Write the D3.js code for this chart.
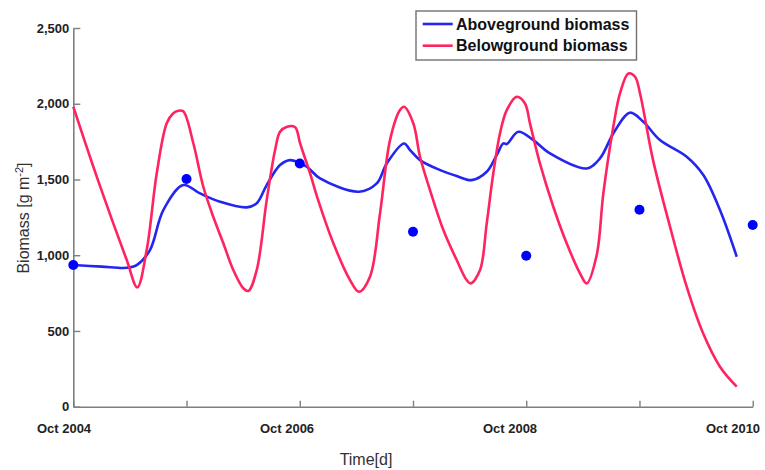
<!DOCTYPE html>
<html>
<head>
<meta charset="utf-8">
<script src="https://cdn.jsdelivr.net/npm/d3@7"></script>
<style>
  html, body { margin: 0; padding: 0; background: #fff; }
  svg { display: block; font-family: "Liberation Sans", Arial, sans-serif; }
</style>
</head>
<body>
<svg id="chart" width="765" height="470"></svg>
<script>
// Time in years since Oct 2004
const xTickValues = [0, 1, 2, 3, 4, 5, 6];
const xTickLabels = ["Oct 2004", "", "Oct 2006", "", "Oct 2008", "", "Oct 2010"];
const yTickValues = [0, 500, 1000, 1500, 2000, 2500];

const seriesNames = ["Aboveground biomass", "Belowground biomass"];

const aboveT = [0, 0.25, 0.472, 0.56, 0.677, 0.795, 0.971, 1.119, 1.296, 1.531, 1.62, 1.708, 1.826, 1.915, 2.061, 2.179, 2.523, 2.68, 2.768, 2.921, 2.974, 3.062, 3.239, 3.386, 3.518, 3.651, 3.739, 3.798, 3.828, 3.93, 4.063, 4.21, 4.534, 4.651, 4.769, 4.916, 5.034, 5.181, 5.417, 5.564, 5.711, 5.859];
const aboveV = [935, 925, 917, 935, 1034, 1298, 1463, 1408, 1353, 1316, 1343, 1463, 1595, 1628, 1584, 1507, 1419, 1474, 1606, 1738, 1694, 1628, 1562, 1523, 1496, 1551, 1661, 1738, 1734, 1815, 1760, 1672, 1573, 1639, 1804, 1941, 1881, 1760, 1650, 1529, 1298, 990];

const belowT = [0, 0.177, 0.353, 0.472, 0.565, 0.648, 0.737, 0.825, 0.883, 0.927, 0.971, 1.06, 1.148, 1.236, 1.325, 1.413, 1.501, 1.546, 1.62, 1.708, 1.782, 1.826, 1.888, 1.959, 2.003, 2.091, 2.164, 2.296, 2.444, 2.523, 2.62, 2.709, 2.797, 2.885, 2.921, 3.003, 3.062, 3.15, 3.268, 3.386, 3.474, 3.51, 3.592, 3.651, 3.709, 3.768, 3.828, 3.916, 3.989, 4.033, 4.121, 4.239, 4.357, 4.475, 4.534, 4.622, 4.681, 4.769, 4.828, 4.902, 4.961, 5.005, 5.12, 5.27, 5.417, 5.561, 5.711, 5.859];
const belowV = [1980, 1584, 1210, 968, 788, 1034, 1541, 1871, 1937, 1954, 1950, 1739, 1452, 1254, 1079, 902, 782, 764, 902, 1364, 1694, 1815, 1848, 1845, 1739, 1540, 1360, 1080, 836, 759, 858, 1277, 1760, 1958, 1980, 1870, 1650, 1430, 1166, 968, 836, 814, 902, 1210, 1540, 1804, 1958, 2046, 2002, 1870, 1606, 1320, 1079, 880, 814, 1000, 1408, 1848, 2068, 2200, 2178, 2068, 1628, 1188, 792, 486, 264, 132];

const obsT = [0, 1, 2, 3, 4, 5, 6];
const obsV = [935, 1503, 1606, 1155, 997, 1300, 1199];

const svg = d3.select("#chart");
const x = d3.scaleLinear().domain([0, 6]).range([73.3, 752.7]);
const xLab = d3.scaleLinear().domain([0, 6]).range([64, 733]);
const y = d3.scaleLinear().domain([0, 2500]).range([406.7, 28]);

const axisColor = "#7f7f7f";

// Y axis
const yAxis = d3.axisLeft(y).tickValues(yTickValues).tickSizeInner(-7).tickSizeOuter(0)
  .tickFormat(d3.format(",")).tickPadding(4);
const gy = svg.append("g").attr("transform", "translate(73.3,0)").call(yAxis);
gy.select(".domain").attr("stroke", axisColor).attr("stroke-width", 1.6);
gy.selectAll(".tick line").attr("stroke", axisColor).attr("stroke-width", 1.4);
gy.selectAll(".tick text").attr("x", -4).attr("font-size", 13).attr("font-weight", "bold")
  .attr("fill", "#222").attr("font-family", "Liberation Sans, Arial, sans-serif");

// X axis
const xAxis = d3.axisBottom(x).tickValues(xTickValues).tickSizeInner(-6).tickSizeOuter(0).tickFormat("");
const gx = svg.append("g").attr("transform", "translate(0,406.7)").call(xAxis);
gx.select(".domain").attr("stroke", axisColor).attr("stroke-width", 1.6);
gx.selectAll(".tick line").attr("stroke", axisColor).attr("stroke-width", 1.4);

svg.append("g").selectAll("text").data(xTickValues).join("text")
  .attr("x", d => xLab(d)).attr("y", 433)
  .attr("text-anchor", "middle").attr("font-size", 13).attr("font-weight", "bold")
  .attr("fill", "#222").text((d, i) => xTickLabels[i]);

// Axis titles
svg.append("text").attr("x", 366).attr("y", 465).attr("text-anchor", "middle")
  .attr("font-size", 16).attr("fill", "#333").text("Time[d]");
const yl = svg.append("text").attr("transform", "translate(29,218) rotate(-90)")
  .attr("text-anchor", "middle").attr("font-size", 16).attr("fill", "#333");
yl.append("tspan").text("Biomass [g m");
yl.append("tspan").attr("dy", -6).attr("font-size", 11).text("-2");
yl.append("tspan").attr("dy", 6).text("]");

// Lines
const line = d3.line().x(d => x(d[0])).y(d => y(d[1])).curve(d3.curveCatmullRom.alpha(0.5));
const aboveData = aboveT.map((t, i) => [t, aboveV[i]]);
const belowData = belowT.map((t, i) => [t, belowV[i]]);

svg.append("path").datum(aboveData).attr("d", line).attr("fill", "none")
  .attr("stroke", "#2525f0").attr("stroke-width", 2.6).attr("stroke-linejoin", "round");
svg.append("path").datum(belowData).attr("d", line).attr("fill", "none")
  .attr("stroke", "#ff2360").attr("stroke-width", 2.6).attr("stroke-linejoin", "round");

// Observations
svg.append("g").selectAll("circle").data(obsT).join("circle")
  .attr("cx", d => x(d)).attr("cy", (d, i) => y(obsV[i])).attr("r", 5)
  .attr("fill", "#0000ff");

// Legend
const lg = svg.append("g");
lg.append("rect").attr("x", 416).attr("y", 11).attr("width", 220.5).attr("height", 49)
  .attr("fill", "#fff").attr("stroke", "#707070").attr("stroke-width", 1.4);
const legColors = ["#2525f0", "#ff2360"];
seriesNames.forEach((name, i) => {
  const yy = 24 + i * 21.7;
  lg.append("line").attr("x1", 422.7).attr("x2", 452.7).attr("y1", yy).attr("y2", yy)
    .attr("stroke", legColors[i]).attr("stroke-width", 2.6);
  lg.append("text").attr("x", 456).attr("y", yy + 5.5).attr("font-size", 16)
    .attr("font-weight", "bold").attr("fill", "#111").text(name);
});
</script>
</body>
</html>
